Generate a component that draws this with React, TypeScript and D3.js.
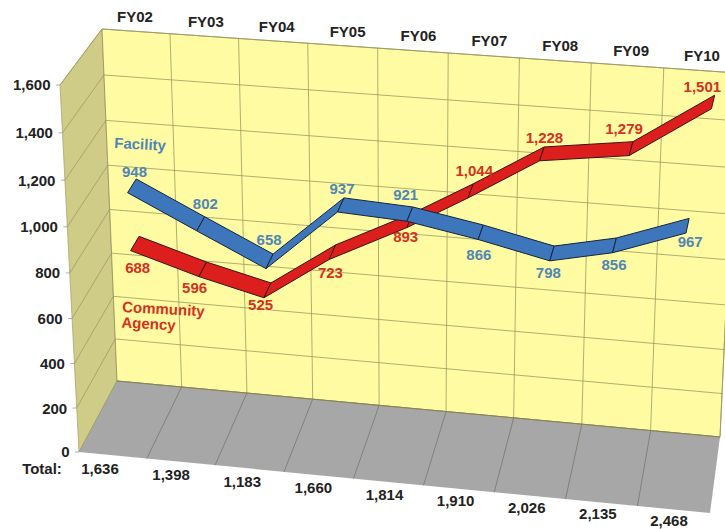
import React from "react";
import * as d3 from "d3";

// Fiscal years and head counts per program
const years = ["FY02", "FY03", "FY04", "FY05", "FY06", "FY07", "FY08", "FY09", "FY10"];
const facility = [948, 802, 658, 937, 921, 866, 798, 856, 967];
const communityAgency = [688, 596, 525, 723, 893, 1044, 1228, 1279, 1501];
const totals = [1636, 1398, 1183, 1660, 1814, 1910, 2026, 2135, 2468];
const valueTicks = [0, 200, 400, 600, 800, 1000, 1200, 1400, 1600];

type Pt = [number, number];

const W = 725;
const H = 529;

// Corners of the box: back wall and the plane at the open front
const backQuad: Pt[] = [[102, 29], [737, 73], [720, 437], [117, 381]];
const frontQuad: Pt[] = [[60, 85], [723, 134], [710, 513], [79, 452]];

// Maps the unit square onto a quadrilateral (TL, TR, BR, BL)
function quadProjection(q: Pt[]) {
  const [[x0, y0], [x1, y1], [x2, y2], [x3, y3]] = q;
  const dx1 = x1 - x2, dx2 = x3 - x2, sx = x0 - x1 + x2 - x3;
  const dy1 = y1 - y2, dy2 = y3 - y2, sy = y0 - y1 + y2 - y3;
  const det = dx1 * dy2 - dx2 * dy1;
  const g = (sx * dy2 - dx2 * sy) / det;
  const h = (dx1 * sy - sx * dy1) / det;
  const a = x1 - x0 + g * x1, b = x3 - x0 + h * x3;
  const d = y1 - y0 + g * y1, e = y3 - y0 + h * y3;
  return (s: number, t: number): Pt => {
    const w = g * s + h * t + 1;
    return [(a * s + b * t + x0) / w, (d * s + e * t + y0) / w];
  };
}

const onBack = quadProjection(backQuad);
const onFront = quadProjection(frontQuad);
const columnScale = d3.scaleLinear().domain([0, years.length]).range([0, 1]);
const valueScale = d3.scaleLinear().domain([0, 800, 1600]).range([1, 0.5, 0]);

// Position in the box: column, value, and depth from back wall (0) to front (1)
function project(col: number, value: number, depth: number): Pt {
  const s = columnScale(col);
  const t = valueScale(value);
  const b = onBack(s, t);
  const f = onFront(s, t);
  return [b[0] + (f[0] - b[0]) * depth, b[1] + (f[1] - b[1]) * depth];
}

const ribbonDepth = 0.22;
const pathOf = d3.line<Pt>().curve(d3.curveLinearClosed);

// Where each ribbon bends, in column units across the box
const facilityBends = [0.42, 1.43, 2.44, 3.5, 4.5, 5.52, 6.54, 7.42, 8.43];
const agencyBends = [0.43, 1.44, 2.4, 3.37, 4.5, 5.37, 6.37, 7.61, 8.71];

// Label anchors along the top and bottom rows
const yearX = d3.scalePoint<string>().domain(years).range([135, 702]);
const yearY = d3.scalePoint<string>().domain(years).range([18, 57]);
const totalX = d3.scalePoint<string>().domain(years).range([100, 669]);
const totalY = d3.scalePoint<string>().domain(years).range([470, 522]);

const fmt = d3.format(",");
const FONT = "'Liberation Sans', Arial, sans-serif";

const BLUE_TEXT = "#4f86b5";
const RED_TEXT = "#d2321f";
const GRID = "#9c9a62";

// Label offsets from each column centre on the value's height, in px
const facilityLabelOffset: Pt[] = [[-7, -6], [-4, -12], [-8, -13], [-2, -8], [-7, -11], [-3, 31], [-3, 28], [-8, 28], [-4, 24]];
const agencyLabelOffset: Pt[] = [[-6, 32], [-16, 27], [-17, 23], [-14, 28], [-7, 25], [-8, -13], [-9, -9], [-1, -11], [3, -6]];

function Ribbon({ values, bends, fill, stroke }: { values: number[]; bends: number[]; fill: string; stroke: string }) {
  const top = values.map((v, i) => project(bends[i], v, 0));
  const bottom = values.map((v, i) => project(bends[i], v, ribbonDepth));
  return (
    <g>
      {values.slice(1).map((_, i) => (
        <path
          key={i}
          d={pathOf([top[i], top[i + 1], bottom[i + 1], bottom[i]]) ?? ""}
          fill={fill}
          stroke={stroke}
          strokeWidth={1}
          strokeLinejoin="round"
        />
      ))}
    </g>
  );
}

export default function App() {
  const cols = d3.range(years.length + 1);
  return (
    <svg
      width={W}
      height={H}
      viewBox={`0 0 ${W} ${H}`}
      style={{ position: "fixed", left: 0, top: 0, background: "#fff" }}
      fontFamily={FONT}
      fontWeight="bold"
    >
      {/* Box faces */}
      <path
        d={pathOf([project(0, 1600, 1), project(0, 1600, 0), project(0, 0, 0), project(0, 0, 1)]) ?? ""}
        fill="#cfcc88"
        stroke="#a9a76c"
        strokeWidth={0.8}
      />
      <path
        d={pathOf([project(0, 1600, 0), project(9, 1600, 0), project(9, 0, 0), project(0, 0, 0)]) ?? ""}
        fill="#fffba2"
        stroke="#8f8d5e"
        strokeWidth={0.8}
      />
      <path
        d={pathOf([project(0, 0, 0), project(9, 0, 0), project(9, 0, 1), project(0, 0, 1)]) ?? ""}
        fill="#a7a7a8"
      />

      {/* Grid on the back wall, side wall and floor */}
      {valueTicks.map((v) => {
        const a = project(0, v, 1), b = project(0, v, 0), c = project(9, v, 0);
        return (
          <g key={v} fill="none" stroke={GRID} strokeWidth={0.8}>
            <polyline points={[a, b, c].map((p) => p.join(",")).join(" ")} />
          </g>
        );
      })}
      {cols.map((c) => {
        const a = project(c, 1600, 0), b = project(c, 0, 0), f = project(c, 0, 1);
        return (
          <g key={c} fill="none" strokeWidth={0.8}>
            {c > 0 && <line x1={a[0]} y1={a[1]} x2={b[0]} y2={b[1]} stroke={GRID} />}
            {c > 0 && c < years.length && <line x1={b[0]} y1={b[1]} x2={f[0]} y2={f[1]} stroke="#77776a" />}
          </g>
        );
      })}
      <line x1={project(0, 0, 0)[0]} y1={project(0, 0, 0)[1]} x2={project(9, 0, 0)[0]} y2={project(9, 0, 0)[1]} stroke="#84815a" strokeWidth={1} />

      {/* Value axis */}
      {valueTicks.map((v) => {
        const [x, y] = project(0, v, 1);
        return (
          <g key={v}>
            <line x1={x - 4} y1={y} x2={x} y2={y} stroke="#999" strokeWidth={0.8} />
            <text x={x - 9.5} y={y + 1.5} textAnchor="end" dominantBaseline="middle" fontSize={15} fill="#222">
              {fmt(v)}
            </text>
          </g>
        );
      })}

      {/* Series ribbons */}
      <Ribbon values={communityAgency} bends={agencyBends} fill="#dc1f1c" stroke="#3a1214" />
      <Ribbon values={facility} bends={facilityBends} fill="#3d76ba" stroke="#14253f" />

      {/* Point labels */}
      {facility.map((v, i) => {
        const [x, y] = project(i + 0.5, v, 0);
        return (
          <text key={i} x={x + facilityLabelOffset[i][0]} y={y + facilityLabelOffset[i][1]} textAnchor="middle" dominantBaseline="middle" fontSize={15} fill={BLUE_TEXT}>
            {fmt(v)}
          </text>
        );
      })}
      {communityAgency.map((v, i) => {
        const [x, y] = project(i + 0.5, v, 0);
        return (
          <text key={i} x={x + agencyLabelOffset[i][0]} y={y + agencyLabelOffset[i][1]} textAnchor="middle" dominantBaseline="middle" fontSize={15} fill={RED_TEXT}>
            {fmt(v)}
          </text>
        );
      })}

      {/* Series names */}
      <text x={114} y={148} fontSize={15} fill={BLUE_TEXT} transform="rotate(3 114 148)">Facility</text>
      <text fontSize={15} fill={RED_TEXT} transform="translate(122 312) rotate(3)">
        <tspan x={0} y={0}>Community</tspan>
        <tspan x={0} y={15.5}>Agency</tspan>
      </text>

      {/* Year headers and totals */}
      {years.map((y) => (
        <text key={y} x={yearX(y)} y={yearY(y)} textAnchor="middle" dominantBaseline="middle" fontSize={15} fill="#222">
          {y}
        </text>
      ))}
      <text x={42} y={470} textAnchor="middle" dominantBaseline="middle" fontSize={15} fill="#222">Total:</text>
      {years.map((y, i) => (
        <text key={y} x={totalX(y)} y={totalY(y)} textAnchor="middle" dominantBaseline="middle" fontSize={15} fill="#222">
          {fmt(totals[i])}
        </text>
      ))}
    </svg>
  );
}
